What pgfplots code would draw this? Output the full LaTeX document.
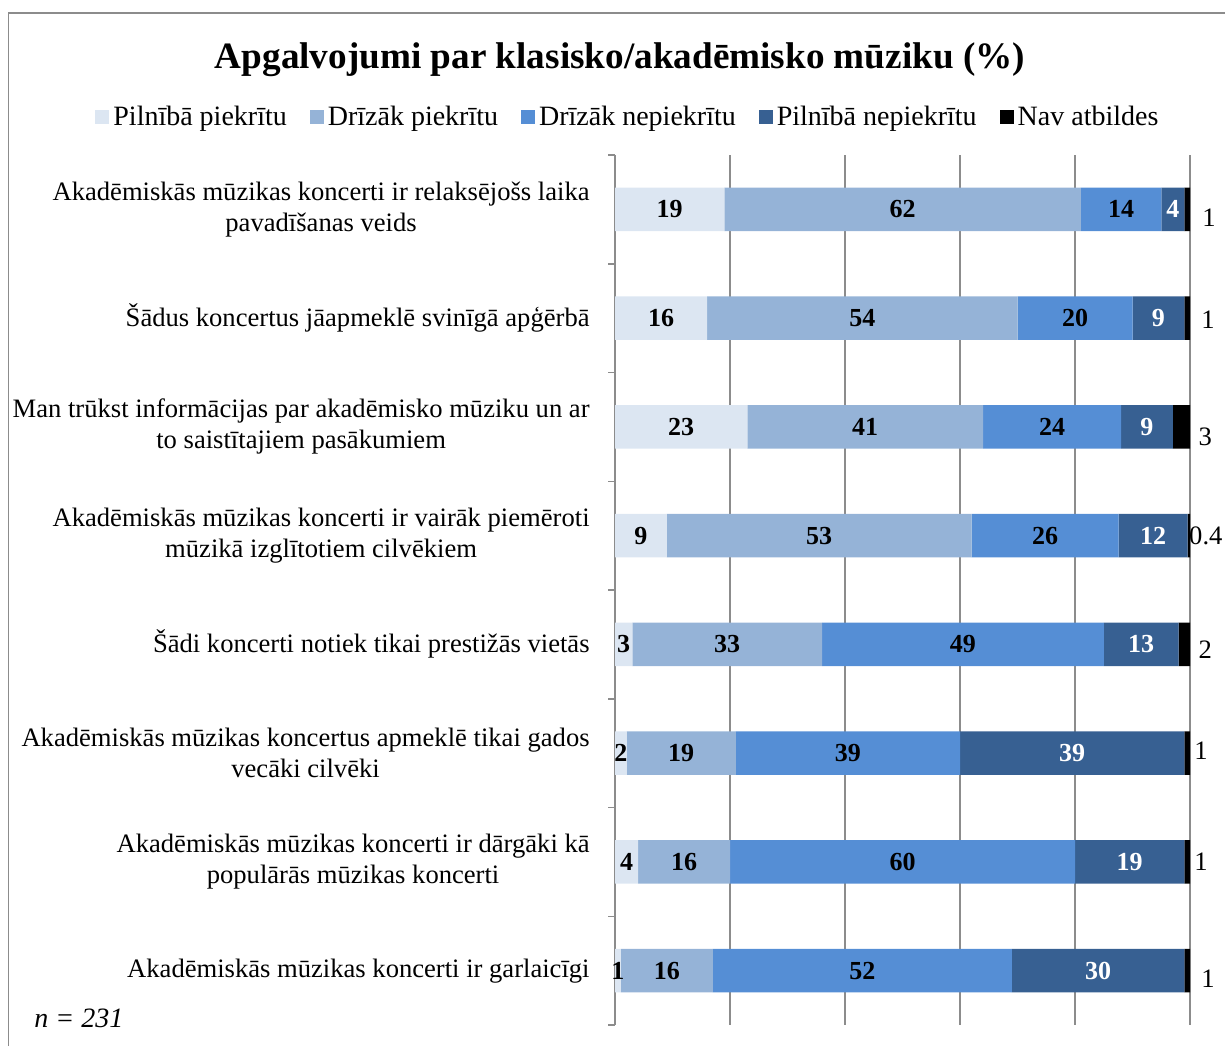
\documentclass[border=0pt]{standalone}
\usepackage{pgfplots}
\pgfplotsset{compat=1.18}
\usepackage{fontspec}
\setmainfont{Liberation Serif}
\definecolor{cA}{HTML}{DCE6F2}
\definecolor{cB}{HTML}{95B3D7}
\definecolor{cC}{HTML}{558ED5}
\definecolor{cD}{HTML}{376092}
\definecolor{gridc}{HTML}{8C8C8C}
\pgfplotstableread{
x y l
19 1 19
16 2 16
23 3 23
9 4 9
3 5 3
2 6 2
4 7 4
1 8 1
}\sA
\pgfplotstableread{
x y l
62 1 62
54 2 54
41 3 41
53 4 53
33 5 33
19 6 19
16 7 16
16 8 16
}\sB
\pgfplotstableread{
x y l
14 1 14
20 2 20
24 3 24
25.6 4 26
49 5 49
39 6 39
60 7 60
52 8 52
}\sC
\pgfplotstableread{
x y l
4 1 4
9 2 9
9 3 9
12 4 12
13 5 13
39 6 39
19 7 19
30 8 30
}\sD
\pgfplotstableread{
x y l dx dy
1 1 1 11 -4
1 2 1 10.5 -1
3 3 3 12 -5
0.4 4 0.4 8.5 0
2 5 2 10.5 -2.5
1 6 1 7 1
1 7 1 7 0
1 8 1 10.5 -4
}\sE
\pgfplotsset{
  midlab/.style={
    nodes near coords,
    every node near coord/.append style={anchor=center, font=\fontsize{13}{15}\selectfont\bfseries}}
}
\begin{document}
\begin{tikzpicture}
\useasboundingbox (0pt,0pt) rectangle (612.5pt,523pt);
\draw[gridc, line width=0.8pt] (4.25pt,0pt) -- (4.25pt,516.6pt) -- (612.5pt,516.6pt);
\node[font=\fontsize{18.6}{21}\selectfont\bfseries] at (310pt,493pt) {Apgalvojumi par klasisko/akadēmisko mūziku (\%)};
\node[anchor=west, font=\fontsize{14}{16}\selectfont\itshape, inner sep=0pt] at (17pt,14pt) {n = 231};
\begin{axis}[
  at={(307.5pt,10.5pt)}, anchor=south west,
  scale only axis, width=287.5pt, height=435pt,
  xbar stacked, bar width=0.4,
  clip=false,
  xmin=0, xmax=100, ymin=0.5, ymax=8.5, y dir=reverse,
  axis line style={draw=none},
  xtick={0,20,...,100}, xticklabel=\empty,
  xmajorgrids, grid style={gridc, line width=0.75pt},
  ytick={1,...,8},
  minor ytick={0.5,1.5,...,8.5},
  major tick length=0pt, minor tick length=3.5pt,
  tick align=outside, ytick pos=left, xtick pos=bottom,
  minor y tick style={gridc, line width=0.75pt},
  yticklabel style={font=\fontsize{13.3}{15.5}\selectfont, align=center, inner sep=0pt, xshift=-12.5pt},
  yticklabels={
    {Akadēmiskās mūzikas koncerti ir relaksējošs laika\\pavadīšanas veids},
    {Šādus koncertus jāapmeklē svinīgā apģērbā},
    {Man trūkst informācijas par akadēmisko mūziku un ar\\to saistītajiem pasākumiem},
    {Akadēmiskās mūzikas koncerti ir vairāk piemēroti\\mūzikā izglītotiem cilvēkiem},
    {Šādi koncerti notiek tikai prestižās vietās},
    {Akadēmiskās mūzikas koncertus apmeklē tikai gados\\vecāki cilvēki},
    {Akadēmiskās mūzikas koncerti ir dārgāki kā\\populārās mūzikas koncerti},
    {Akadēmiskās mūzikas koncerti ir garlaicīgi}},
  legend columns=5,
  legend style={at={(-0.9043,1.0437)}, anchor=west, draw=none, fill=none, inner sep=0pt,
    font=\fontsize{14}{16}\selectfont,
    /tikz/every even column/.append style={column sep=9.5pt},
    nodes={inner xsep=2pt, inner ysep=2pt}},
  legend image code/.code={\fill[#1] (0pt,-3.5pt) rectangle (7pt,3.5pt);},
  point meta=explicit symbolic,
]
\addplot[fill=cA, draw=none, midlab] table[x=x, y=y, meta=l] {\sA};
\addlegendentry{Pilnībā piekrītu}
\addplot[fill=cB, draw=none, midlab] table[x=x, y=y, meta=l] {\sB};
\addlegendentry{Drīzāk piekrītu}
\addplot[fill=cC, draw=none, midlab] table[x=x, y=y, meta=l] {\sC};
\addlegendentry{Drīzāk nepiekrītu}
\addplot[fill=cD, draw=none, midlab, every node near coord/.append style={text=white}] table[x=x, y=y, meta=l] {\sD};
\addlegendentry{Pilnībā nepiekrītu}
\addplot[fill=black, draw=none, nodes near coords,
  visualization depends on={\thisrow{dx} \as \dx},
  visualization depends on={\thisrow{dy} \as \dy},
  every node near coord/.style={anchor=center, font=\fontsize{13.3}{15}\selectfont, xshift=\dx pt, yshift=\dy pt}]
  table[x=x, y=y, meta=l] {\sE};
\addlegendentry{Nav atbildes}
\draw[gridc, line width=0.75pt] (axis cs:0,0.5) -- (axis cs:0,8.5);
\end{axis}
\end{tikzpicture}
\end{document}
